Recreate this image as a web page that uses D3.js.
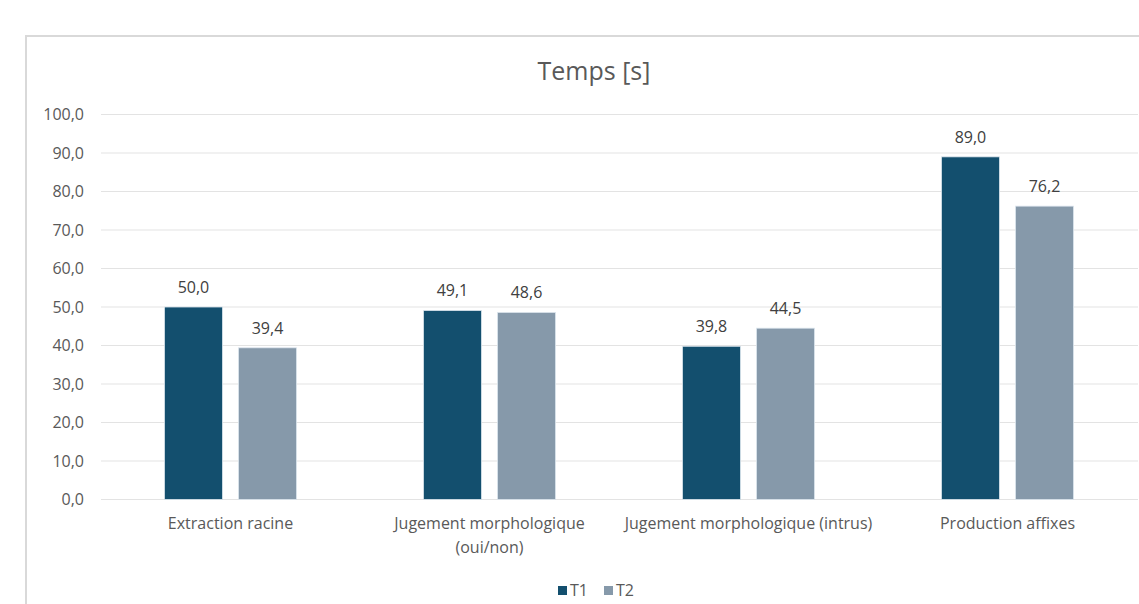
<!DOCTYPE html>
<html>
<head>
<meta charset="utf-8">
<script src="https://cdn.jsdelivr.net/npm/d3@7"></script>
<style>
  html, body { margin: 0; padding: 0; background: #fff; }
  svg { display: block; font-family: "Open Sans", sans-serif; }
</style>
</head>
<body>
<svg id="chart" width="1139" height="604"></svg>
<script>
// data
const categories = [
  ["Extraction racine"],
  ["Jugement morphologique", "(oui/non)"],
  ["Jugement morphologique (intrus)"],
  ["Production affixes"]
];
const seriesNames = ["T1", "T2"];
const t1Values = [50.0, 49.1, 39.8, 89.0];
const t2Values = [39.4, 48.6, 44.5, 76.2];
const yTicks = [0, 10, 20, 30, 40, 50, 60, 70, 80, 90, 100];
const colors = ["#134f6e", "#8699aa"];

const svg = d3.select("#chart");
const textColor = "#595959";
const fmt = v => d3.format(".1f")(v).replace(".", ",");

// chart border
svg.append("rect")
  .attr("x", 26).attr("y", 36)
  .attr("width", 1200).attr("height", 700)
  .attr("fill", "#fff")
  .attr("stroke", "#d9d9d9")
  .attr("stroke-width", 2);

// title
svg.append("text")
  .attr("x", 594).attr("y", 80)
  .attr("text-anchor", "middle")
  .attr("font-size", 25)
  .attr("fill", textColor)
  .text("Temps [s]");

const plotLeft = 101, plotRight = 1137, plotTop = 114.5, plotBottom = 499.5;

const x0 = d3.scaleBand()
  .domain(d3.range(categories.length))
  .range([plotLeft, plotRight])
  .paddingInner(0.49)
  .paddingOuter(0.245);

const x1 = d3.scaleBand()
  .domain(seriesNames)
  .range([0, x0.bandwidth()])
  .paddingInner(0.216);

const y = d3.scaleLinear().domain([0, 100]).range([plotBottom, plotTop]);

// gridlines
svg.append("g")
  .selectAll("line")
  .data(yTicks)
  .join("line")
  .attr("x1", plotLeft).attr("x2", plotRight + 1)
  .attr("y1", d => y(d)).attr("y2", d => y(d))
  .attr("stroke", "#e3e3e3")
  .attr("stroke-width", 1);

// y axis labels
const yAxis = d3.axisLeft(y).tickValues(yTicks).tickFormat(fmt).tickSize(0).tickPadding(0);
const gy = svg.append("g")
  .attr("transform", `translate(84,0)`)
  .call(yAxis);
gy.select(".domain").remove();
gy.selectAll("text")
  .attr("font-size", 16)
  .attr("font-family", "'Open Sans', sans-serif")
  .attr("fill", textColor);

// bars
const seriesData = [t1Values, t2Values];
const groups = svg.append("g")
  .selectAll("g")
  .data(categories.map((c, i) => i))
  .join("g")
  .attr("transform", i => `translate(${x0(i)},0)`);

groups.selectAll("rect")
  .data(i => seriesNames.map((s, k) => ({ s, k, v: seriesData[k][i] })))
  .join("rect")
  .attr("x", d => x1(d.s))
  .attr("y", d => y(d.v))
  .attr("width", x1.bandwidth())
  .attr("height", d => plotBottom - y(d.v))
  .attr("fill", d => colors[d.k])
  .attr("stroke", "#dde6ee")
  .attr("stroke-width", 0.8);

groups.selectAll("text.val")
  .data(i => seriesNames.map((s, k) => ({ s, k, v: seriesData[k][i] })))
  .join("text")
  .attr("class", "val")
  .attr("x", d => x1(d.s) + x1.bandwidth() / 2)
  .attr("y", d => y(d.v) - 14)
  .attr("text-anchor", "middle")
  .attr("font-size", 16)
  .attr("fill", "#404040")
  .text(d => fmt(d.v));

// category labels
svg.append("g")
  .selectAll("text")
  .data(categories.map((c, i) => ({ c, i })))
  .join("text")
  .attr("x", d => x0(d.i) + x0.bandwidth() / 2)
  .attr("y", 529)
  .attr("text-anchor", "middle")
  .attr("font-size", 16)
  .attr("fill", textColor)
  .selectAll("tspan")
  .data(d => d.c)
  .join("tspan")
  .attr("x", function () { return d3.select(this.parentNode).attr("x"); })
  .attr("dy", (d, j) => j === 0 ? 0 : 24)
  .text(d => d);

// legend
const legend = svg.append("g").attr("transform", "translate(558,590)");
const legendItems = legend.selectAll("g")
  .data(seriesNames)
  .join("g")
  .attr("transform", (d, i) => `translate(${i * 46},0)`);
legendItems.append("rect")
  .attr("x", 0).attr("y", -4)
  .attr("width", 9).attr("height", 9)
  .attr("fill", (d, i) => colors[i]);
legendItems.append("text")
  .attr("x", 12).attr("y", 6)
  .attr("font-size", 16)
  .attr("fill", textColor)
  .text(d => d);
</script>
</body>
</html>
